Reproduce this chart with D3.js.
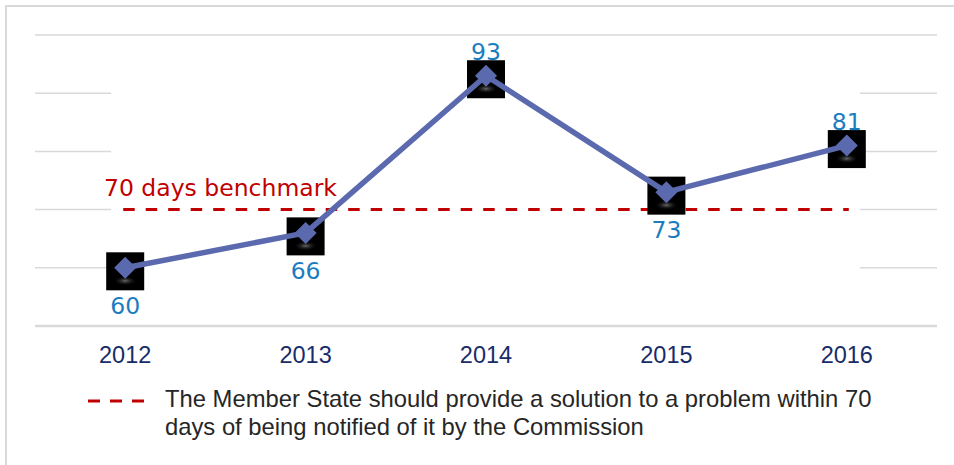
<!DOCTYPE html>
<html>
<head>
<meta charset="utf-8">
<script src="https://cdn.jsdelivr.net/npm/d3@7"></script>
<style>
  html, body { margin: 0; padding: 0; background: #fff; }
  svg { display: block; }
</style>
</head>
<body>
<svg id="chart" width="954" height="465"></svg>
<script>
var years = ["2012", "2013", "2014", "2015", "2016"];
var days = [60, 66, 93, 73, 81];
var labelSide = ["below", "below", "above", "below", "above"];
var benchmark = 70;
var yTicks = [50, 60, 70, 80, 90, 100];
var benchmarkLabel = "70 days benchmark";
var legendLines = [
  "The Member State should provide a solution to a problem within 70",
  "days of being notified of it by the Commission"
];

var svg = d3.select("#chart");
var plotLeft = 35, plotRight = 937, plotTop = 35, plotBottom = 326;

var x = d3.scalePoint().domain(years).range([plotLeft, plotRight]).padding(0.5);
var y = d3.scaleLinear().domain([50, 100]).range([plotBottom, plotTop]);

function pos(d, i) { return "translate(" + x(years[i]) + "," + y(d) + ")"; }

// outer frame
svg.append("rect")
  .attr("x", 6).attr("y", 6)
  .attr("width", 960).attr("height", 480)
  .attr("fill", "#fff")
  .attr("stroke", "#d9d9d9")
  .attr("stroke-width", 2);

// gridlines
svg.append("g")
  .selectAll("line")
  .data(yTicks)
  .enter().append("line")
  .attr("x1", plotLeft).attr("x2", plotRight)
  .attr("y1", function (d) { return y(d); })
  .attr("y2", function (d) { return y(d); })
  .attr("stroke", "#d9d9d9")
  .attr("stroke-width", function (d) { return d === 50 ? 2.5 : 1.5; });

// plot area mask hiding the inner part of the gridlines
svg.append("rect")
  .attr("x", x(years[0]) - 14)
  .attr("y", y(100) + 2)
  .attr("width", x(years[years.length - 1]) + 13 - (x(years[0]) - 14))
  .attr("height", y(50) - y(100) - 4)
  .attr("fill", "#fff");

// category labels
svg.append("g")
  .selectAll("text")
  .data(years)
  .enter().append("text")
  .attr("x", function (d) { return x(d); })
  .attr("y", 363)
  .attr("text-anchor", "middle")
  .attr("font-family", "'Liberation Sans', Arial, sans-serif")
  .attr("font-size", 23.5)
  .attr("fill", "#172c69")
  .text(function (d) { return d; });

// benchmark line
svg.append("line")
  .attr("x1", x(years[0]) - 2)
  .attr("x2", x(years[years.length - 1]) + 2)
  .attr("y1", y(benchmark)).attr("y2", y(benchmark))
  .attr("stroke", "#c00000")
  .attr("stroke-width", 3)
  .attr("stroke-dasharray", "11.5,11");

svg.append("text")
  .attr("x", 104)
  .attr("y", y(benchmark) - 14)
  .attr("font-family", "'DejaVu Sans', Verdana, sans-serif")
  .attr("font-size", 23.5)
  .attr("fill", "#c00000")
  .text(benchmarkLabel);

// glow for marker boxes
var defs = svg.append("defs");
var grad = defs.append("radialGradient").attr("id", "glow");
grad.append("stop").attr("offset", "0%").attr("stop-color", "#7a7a7a").attr("stop-opacity", 0.85);
grad.append("stop").attr("offset", "100%").attr("stop-color", "#000").attr("stop-opacity", 0);

// black marker boxes
var boxes = svg.append("g")
  .selectAll("g")
  .data(days)
  .enter().append("g")
  .attr("transform", pos);

boxes.append("rect")
  .attr("x", -19).attr("y", -15.5)
  .attr("width", 38).attr("height", 38)
  .attr("fill", "#000");

boxes.append("ellipse")
  .attr("cx", 0).attr("cy", 13)
  .attr("rx", 12).attr("ry", 5)
  .attr("fill", "url(#glow)");

// series line
var line = d3.line()
  .x(function (d, i) { return x(years[i]); })
  .y(function (d) { return y(d); });

svg.append("path")
  .datum(days)
  .attr("d", line)
  .attr("fill", "none")
  .attr("stroke", "#5b6aae")
  .attr("stroke-width", 5.5)
  .attr("stroke-linejoin", "round");

// diamond markers
svg.append("g")
  .selectAll("path")
  .data(days)
  .enter().append("path")
  .attr("transform", pos)
  .attr("d", "M0,-11L11,0L0,11L-11,0Z")
  .attr("fill", "#5b6aae");

// data labels
svg.append("g")
  .selectAll("text")
  .data(days)
  .enter().append("text")
  .attr("x", function (d, i) { return x(years[i]); })
  .attr("y", function (d, i) { return y(d) + (labelSide[i] === "above" ? -16 : 46); })
  .attr("text-anchor", "middle")
  .attr("font-family", "'DejaVu Sans', Verdana, sans-serif")
  .attr("font-size", 23.5)
  .attr("fill", "#1b7dc0")
  .text(function (d) { return d; });

// legend
svg.append("line")
  .attr("x1", 88).attr("x2", 146)
  .attr("y1", 401).attr("y2", 401)
  .attr("stroke", "#c00000")
  .attr("stroke-width", 3)
  .attr("stroke-dasharray", "12,10");

svg.append("g")
  .selectAll("text")
  .data(legendLines)
  .enter().append("text")
  .attr("x", 165)
  .attr("y", function (d, i) { return 407 + i * 28; })
  .attr("font-family", "'Liberation Sans', Arial, sans-serif")
  .attr("font-size", 23.8)
  .attr("fill", "#262626")
  .text(function (d) { return d; });
</script>
</body>
</html>
